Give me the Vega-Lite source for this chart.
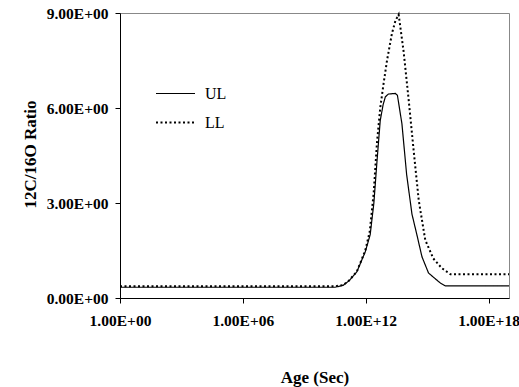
{
  "$schema": "https://vega.github.io/schema/vega-lite/v6.json",
  "width": 389,
  "height": 285,
  "autosize": "none",
  "padding": {"left": 120, "top": 13, "right": 10, "bottom": 89},
  "background": "white",
  "config": {
    "view": {"stroke": "#888888", "strokeWidth": 1},
    "font": "Liberation Serif"
  },
  "data": {
    "values": [
      {"series": "UL", "age": 1, "ratio": 0.34},
      {"series": "UL", "age": 1e5, "ratio": 0.34},
      {"series": "UL", "age": 3.16e10, "ratio": 0.34},
      {"series": "UL", "age": 7.94e10, "ratio": 0.40},
      {"series": "UL", "age": 1.58e11, "ratio": 0.55},
      {"series": "UL", "age": 3.72e11, "ratio": 0.83},
      {"series": "UL", "age": 9.55e11, "ratio": 1.46},
      {"series": "UL", "age": 1.66e12, "ratio": 2.0},
      {"series": "UL", "age": 2.51e12, "ratio": 3.0},
      {"series": "UL", "age": 3.55e12, "ratio": 4.3},
      {"series": "UL", "age": 5.13e12, "ratio": 5.6},
      {"series": "UL", "age": 7.08e12, "ratio": 6.1},
      {"series": "UL", "age": 9.12e12, "ratio": 6.35},
      {"series": "UL", "age": 1.26e13, "ratio": 6.44},
      {"series": "UL", "age": 2.82e13, "ratio": 6.46},
      {"series": "UL", "age": 3.55e13, "ratio": 6.4},
      {"series": "UL", "age": 5.89e13, "ratio": 5.5},
      {"series": "UL", "age": 1e14, "ratio": 3.9},
      {"series": "UL", "age": 1.82e14, "ratio": 2.65},
      {"series": "UL", "age": 3.16e14, "ratio": 2.0},
      {"series": "UL", "age": 5.62e14, "ratio": 1.30},
      {"series": "UL", "age": 1.17e15, "ratio": 0.79},
      {"series": "UL", "age": 4.47e15, "ratio": 0.47},
      {"series": "UL", "age": 7.94e15, "ratio": 0.38},
      {"series": "UL", "age": 1e19, "ratio": 0.38},
      {"series": "LL", "age": 1, "ratio": 0.37},
      {"series": "LL", "age": 3.16e10, "ratio": 0.37},
      {"series": "LL", "age": 7.94e10, "ratio": 0.41},
      {"series": "LL", "age": 1.58e11, "ratio": 0.56},
      {"series": "LL", "age": 3.72e11, "ratio": 0.84},
      {"series": "LL", "age": 9.55e11, "ratio": 1.5},
      {"series": "LL", "age": 1.58e12, "ratio": 2.1},
      {"series": "LL", "age": 2.45e12, "ratio": 3.3},
      {"series": "LL", "age": 3.55e12, "ratio": 4.9},
      {"series": "LL", "age": 5.13e12, "ratio": 6.0},
      {"series": "LL", "age": 7.59e12, "ratio": 6.8},
      {"series": "LL", "age": 1.1e13, "ratio": 7.5},
      {"series": "LL", "age": 1.91e13, "ratio": 8.35},
      {"series": "LL", "age": 2.82e13, "ratio": 8.75},
      {"series": "LL", "age": 4.07e13, "ratio": 8.95},
      {"series": "LL", "age": 7.08e13, "ratio": 7.8},
      {"series": "LL", "age": 1.26e14, "ratio": 6.25},
      {"series": "LL", "age": 2.19e14, "ratio": 4.67},
      {"series": "LL", "age": 3.89e14, "ratio": 3.09},
      {"series": "LL", "age": 8.13e14, "ratio": 1.83},
      {"series": "LL", "age": 2e15, "ratio": 1.25},
      {"series": "LL", "age": 5.25e15, "ratio": 0.94},
      {"series": "LL", "age": 1.38e16, "ratio": 0.75},
      {"series": "LL", "age": 1e19, "ratio": 0.75}
    ]
  },
  "mark": {"type": "line", "color": "black", "strokeCap": "butt"},
  "encoding": {
    "x": {
      "field": "age",
      "type": "quantitative",
      "scale": {"type": "log", "domain": [1, 1e19], "nice": false},
      "axis": {
        "values": [1, 1e6, 1e12, 1e18],
        "labelExpr": "'1.00E+' + (round(log(datum.value)/LN10) < 10 ? '0' : '') + round(log(datum.value)/LN10)",
        "grid": false,
        "domainColor": "black",
        "tickColor": "black",
        "tickSize": 5,
        "labelFont": "Liberation Serif",
        "labelFontSize": 15.5,
        "labelFontWeight": "bold",
        "labelColor": "black",
        "labelPadding": 10,
        "labelFlush": false,
        "title": "Age (Sec)",
        "titleFont": "Liberation Serif",
        "titleFontSize": 17,
        "titleFontWeight": "bold",
        "titleColor": "black",
        "titleY": 79,
        "titleBaseline": "middle"
      }
    },
    "y": {
      "field": "ratio",
      "type": "quantitative",
      "scale": {"domain": [0, 9], "nice": false, "zero": true},
      "axis": {
        "values": [0, 3, 6, 9],
        "labelExpr": "format(datum.value, '.2f') + 'E+00'",
        "grid": false,
        "domainColor": "black",
        "tickColor": "black",
        "tickSize": 5,
        "labelFont": "Liberation Serif",
        "labelFontSize": 15.5,
        "labelFontWeight": "bold",
        "labelColor": "black",
        "labelPadding": 7,
        "labelFlush": false,
        "title": "12C/16O Ratio",
        "titleFont": "Liberation Serif",
        "titleFontSize": 17,
        "titleFontWeight": "bold",
        "titleColor": "black",
        "titleAngle": -90,
        "titleX": -90,
        "titleY": 141,
        "titleAlign": "center",
        "titleBaseline": "middle"
      }
    },
    "strokeDash": {
      "field": "series",
      "type": "nominal",
      "scale": {"domain": ["UL", "LL"], "range": [[1, 0], [2, 2.5]]},
      "legend": {
        "title": null,
        "orient": "none",
        "legendX": 35,
        "legendY": 60,
        "padding": 0,
        "symbolType": "stroke",
        "symbolSize": 1521,
        "symbolStrokeColor": "black",
        "labelFont": "Liberation Serif",
        "labelFontSize": 16,
        "labelColor": "black",
        "labelOffset": 9,
        "rowPadding": -4
      }
    },
    "strokeWidth": {
      "field": "series",
      "type": "nominal",
      "scale": {"domain": ["UL", "LL"], "range": [1.2, 2]},
      "legend": {
        "title": null,
        "orient": "none",
        "legendX": 35,
        "legendY": 60,
        "padding": 0,
        "symbolType": "stroke",
        "symbolSize": 1521,
        "symbolStrokeColor": "black",
        "labelFont": "Liberation Serif",
        "labelFontSize": 16,
        "labelColor": "black",
        "labelOffset": 9,
        "rowPadding": -4
      }
    }
  }
}
